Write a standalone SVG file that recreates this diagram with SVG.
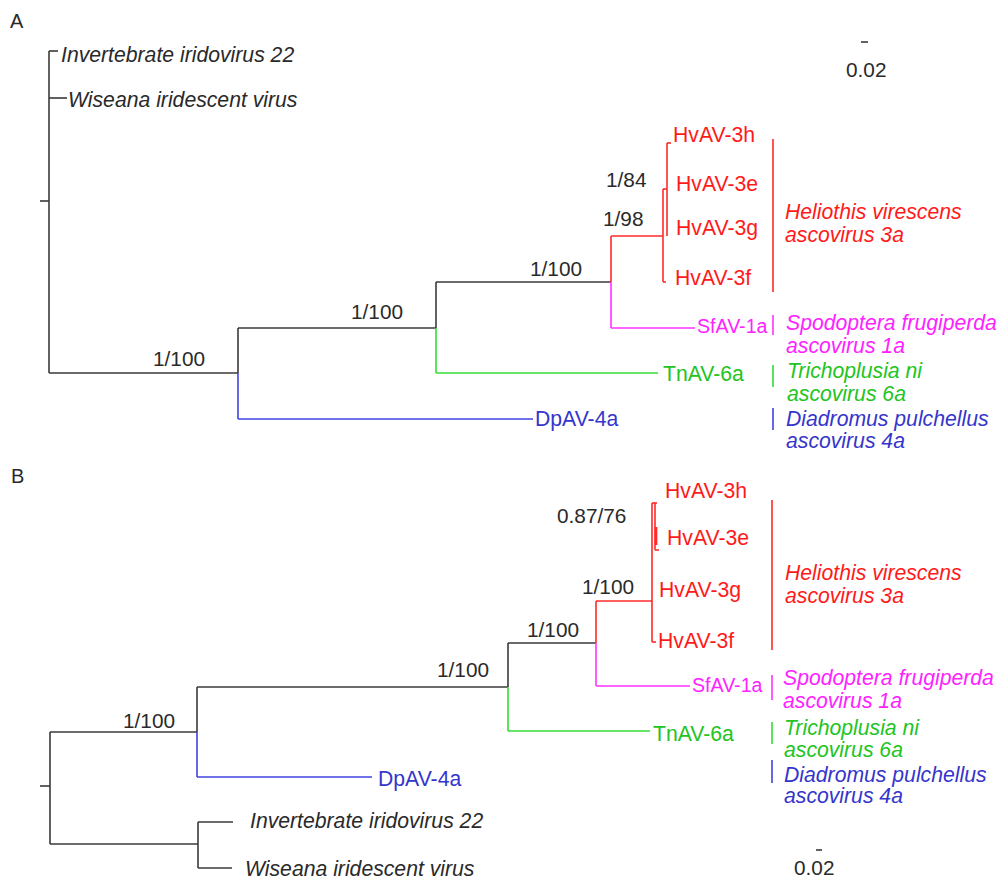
<svg xmlns="http://www.w3.org/2000/svg" width="1000" height="881" viewBox="0 0 1000 881">
<style>
text{font-family:"Liberation Sans",Arial,sans-serif;font-size:21.2px;fill:#2a2a2a}
.n{font-size:20.8px}
.it{font-style:italic}
.pl{font-size:20px}
.sf{font-size:19.6px}
.r{fill:#ff1a1a}.m{fill:#ff22ff}.g{fill:#22c422}.b{fill:#3535cc}
line{stroke-width:1.6;fill:none}
.k{stroke:#3a3a3a}.lr{stroke:#ff2a2a}.lm{stroke:#ff33ff}.lg{stroke:#33dd33}.lb{stroke:#4242e0}
</style>
<rect width="1000" height="881" fill="#ffffff"/>
<g id="connectors">
<!-- Panel A -->
<line class="k" x1="40" y1="201" x2="49" y2="201"/>
<line class="k" x1="49" y1="51" x2="49" y2="373"/>
<line class="k" x1="49" y1="51" x2="58" y2="51"/>
<line class="k" x1="49" y1="98" x2="67" y2="98"/>
<line class="k" x1="49" y1="373" x2="238" y2="373"/>
<line class="k" x1="238" y1="328" x2="238" y2="373"/>
<line class="lb" x1="238" y1="373" x2="238" y2="419"/>
<line class="lb" x1="238" y1="419" x2="533" y2="419"/>
<line class="k" x1="238" y1="328" x2="436" y2="328"/>
<line class="k" x1="436" y1="282" x2="436" y2="328"/>
<line class="lg" x1="436" y1="328" x2="436" y2="373"/>
<line class="lg" x1="436" y1="373" x2="658" y2="373"/>
<line class="k" x1="436" y1="282" x2="611" y2="282"/>
<line class="lr" x1="611" y1="236" x2="611" y2="282"/>
<line class="lm" x1="611" y1="282" x2="611" y2="328"/>
<line class="lm" x1="611" y1="328" x2="695" y2="328"/>
<line class="lr" x1="611" y1="236" x2="663" y2="236"/>
<line class="lr" x1="663" y1="189" x2="663" y2="282"/>
<line class="lr" x1="663" y1="189" x2="667" y2="189"/>
<line class="lr" x1="667" y1="143" x2="667" y2="236"/>
<line class="lr" x1="667" y1="143" x2="671" y2="143"/>
<line class="lr" x1="663" y1="282" x2="666" y2="282"/>
<line class="lr" x1="773" y1="139" x2="773" y2="292"/>
<line class="lm" x1="773" y1="315" x2="773" y2="335"/>
<line class="lg" x1="773" y1="365" x2="773" y2="387"/>
<line class="lb" x1="773" y1="408" x2="773" y2="430"/>
<line class="k" x1="861" y1="42" x2="868" y2="42"/>
<!-- Panel B -->
<line class="k" x1="40" y1="786" x2="50" y2="786"/>
<line class="k" x1="50" y1="732" x2="50" y2="844"/>
<line class="k" x1="50" y1="732" x2="197" y2="732"/>
<line class="k" x1="197" y1="687" x2="197" y2="732"/>
<line class="lb" x1="197" y1="732" x2="197" y2="777"/>
<line class="lb" x1="197" y1="777" x2="372" y2="777"/>
<line class="k" x1="197" y1="687" x2="508" y2="687"/>
<line class="k" x1="508" y1="643" x2="508" y2="687"/>
<line class="lg" x1="508" y1="687" x2="508" y2="731"/>
<line class="lg" x1="508" y1="731" x2="650" y2="731"/>
<line class="k" x1="508" y1="643" x2="596" y2="643"/>
<line class="lr" x1="596" y1="601" x2="596" y2="643"/>
<line class="lm" x1="596" y1="643" x2="596" y2="686"/>
<line class="lm" x1="596" y1="686" x2="690" y2="686"/>
<line class="lr" x1="596" y1="601" x2="652" y2="601"/>
<line class="lr" x1="652" y1="503" x2="652" y2="642"/>
<line class="lr" x1="652" y1="503" x2="657" y2="503"/>
<line class="lr" x1="655" y1="503" x2="655" y2="550"/>
<line class="lr" x1="655" y1="550" x2="659" y2="550"/>
<line class="lr" x1="656" y1="527" x2="656" y2="545" style="stroke-width:2.6"/>
<line class="lr" x1="652" y1="642" x2="656" y2="642"/>
<line class="k" x1="50" y1="844" x2="198" y2="844"/>
<line class="k" x1="198" y1="822" x2="198" y2="868"/>
<line class="k" x1="198" y1="822" x2="233" y2="822"/>
<line class="k" x1="198" y1="868" x2="232" y2="868"/>
<line class="lr" x1="772" y1="500" x2="772" y2="650"/>
<line class="lm" x1="772" y1="675" x2="772" y2="700"/>
<line class="lg" x1="772" y1="722" x2="772" y2="744"/>
<line class="lb" x1="772" y1="760" x2="772" y2="783"/>
<line class="k" x1="816" y1="850" x2="822" y2="850"/>
</g>
<!-- Panel A nodes -->
<g id="panelA-label"><text x="10" y="28" class="pl">A</text></g>
<g id="A-iiv22"><text x="61" y="62" class="it">Invertebrate iridovirus 22</text></g>
<g id="A-wiv"><text x="68" y="107" class="it">Wiseana iridescent virus</text></g>
<g id="A-supports">
<text x="153" y="366" class="n">1/100</text>
<text x="351" y="319" class="n">1/100</text>
<text x="530" y="276" class="n">1/100</text>
<text x="603" y="226" class="n">1/98</text>
<text x="606" y="187" class="n">1/84</text>
</g>
<g id="A-HvAV-3h"><text x="673" y="142" class="r">HvAV-3h</text></g>
<g id="A-HvAV-3e"><text x="676" y="191" class="r">HvAV-3e</text></g>
<g id="A-HvAV-3g"><text x="676" y="235" class="r">HvAV-3g</text></g>
<g id="A-HvAV-3f"><text x="675" y="285" class="r">HvAV-3f</text></g>
<g id="A-SfAV-1a"><text x="697" y="333" class="m sf">SfAV-1a</text></g>
<g id="A-TnAV-6a"><text x="663" y="381" class="g">TnAV-6a</text></g>
<g id="A-DpAV-4a"><text x="535" y="426" class="b">DpAV-4a</text></g>
<g id="A-clade-hv"><text x="785" y="219" class="it r">Heliothis virescens</text><text x="785" y="242" class="it r">ascovirus 3a</text></g>
<g id="A-clade-sf"><text x="786" y="330" class="it m">Spodoptera frugiperda</text><text x="786" y="353" class="it m">ascovirus 1a</text></g>
<g id="A-clade-tn"><text x="787" y="378" class="it g">Trichoplusia ni</text><text x="787" y="401" class="it g">ascovirus 6a</text></g>
<g id="A-clade-dp"><text x="786" y="426" class="it b">Diadromus pulchellus</text><text x="786" y="448" class="it b">ascovirus 4a</text></g>
<g id="A-scale"><text x="846" y="77" class="n">0.02</text></g>
<!-- Panel B nodes -->
<g id="panelB-label"><text x="11" y="483" class="pl">B</text></g>
<g id="B-supports">
<text x="123" y="728" class="n">1/100</text>
<text x="437" y="677" class="n">1/100</text>
<text x="527" y="637" class="n">1/100</text>
<text x="582" y="594" class="n">1/100</text>
<text x="557" y="523" class="n">0.87/76</text>
</g>
<g id="B-HvAV-3h"><text x="665" y="498" class="r">HvAV-3h</text></g>
<g id="B-HvAV-3e"><text x="667" y="545" class="r">HvAV-3e</text></g>
<g id="B-HvAV-3g"><text x="659" y="597" class="r">HvAV-3g</text></g>
<g id="B-HvAV-3f"><text x="658" y="648" class="r">HvAV-3f</text></g>
<g id="B-SfAV-1a"><text x="692" y="692" class="m sf">SfAV-1a</text></g>
<g id="B-TnAV-6a"><text x="653" y="741" class="g">TnAV-6a</text></g>
<g id="B-DpAV-4a"><text x="378" y="786" class="b">DpAV-4a</text></g>
<g id="B-iiv22"><text x="250" y="828" class="it">Invertebrate iridovirus 22</text></g>
<g id="B-wiv"><text x="245" y="876" class="it">Wiseana iridescent virus</text></g>
<g id="B-clade-hv"><text x="785" y="580" class="it r">Heliothis virescens</text><text x="785" y="603" class="it r">ascovirus 3a</text></g>
<g id="B-clade-sf"><text x="783" y="685" class="it m">Spodoptera frugiperda</text><text x="783" y="708" class="it m">ascovirus 1a</text></g>
<g id="B-clade-tn"><text x="784" y="735" class="it g">Trichoplusia ni</text><text x="784" y="757" class="it g">ascovirus 6a</text></g>
<g id="B-clade-dp"><text x="784" y="782" class="it b">Diadromus pulchellus</text><text x="784" y="803" class="it b">ascovirus 4a</text></g>
<g id="B-scale"><text x="794" y="875" class="n">0.02</text></g>
</svg>
